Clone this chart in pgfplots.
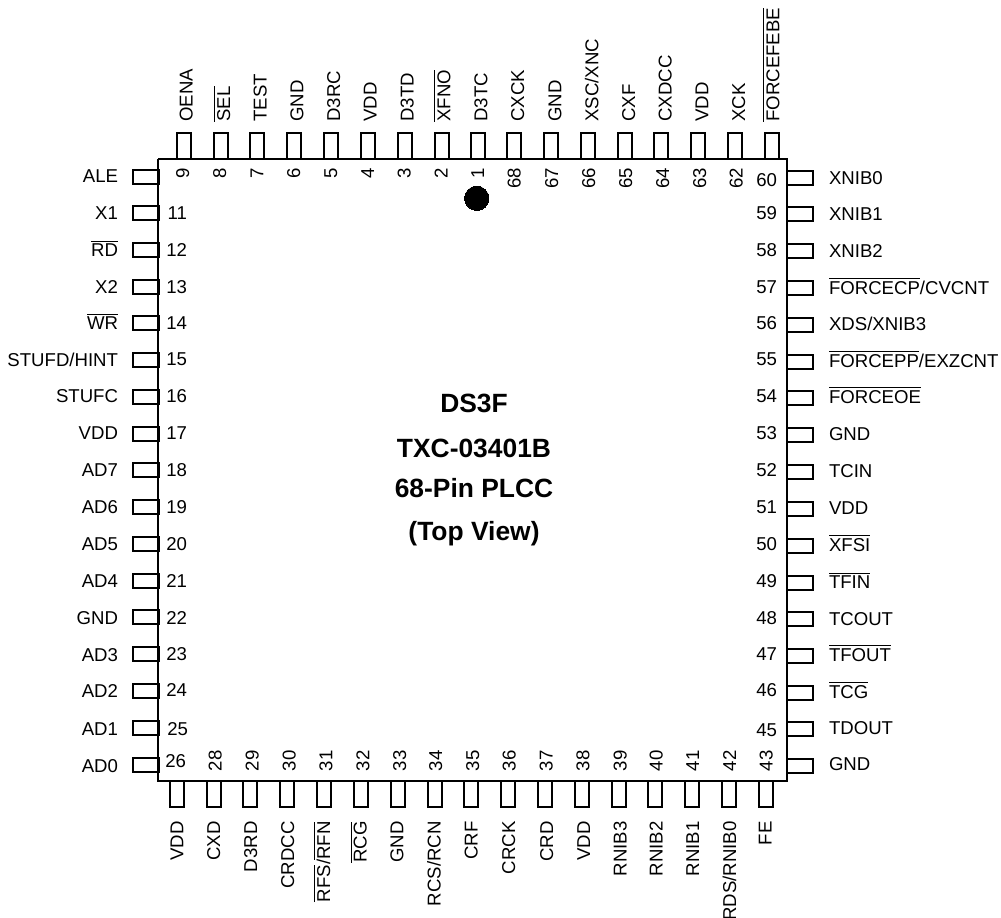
\documentclass[border=0pt]{standalone}
\usepackage{fontspec}
\setmainfont{Liberation Sans}
\usepackage{pgfplots}
\usepackage{pgfplotstable}
\pgfplotsset{compat=1.18}

% 1 pixel of the reference = 0.5pt, axis units are reference pixels (y downwards)
\protected\def\ol#1{$\overline{\mbox{#1}}$}
\pgfdeclareplotmark{pinv}{\pgfpathrectangle{\pgfpoint{-3.5pt}{-6.4pt}}{\pgfpoint{7pt}{12.8pt}}\pgfusepathqstroke}
\pgfdeclareplotmark{pinh}{\pgfpathrectangle{\pgfpoint{-6.4pt}{-3.5pt}}{\pgfpoint{12.8pt}{7pt}}\pgfusepathqstroke}

% pins
\pgfplotstableread{
x y
183.5 146
220.5 146
257 146
293.5 146
330.5 146
367.5 146
404.5 146
441.5 146
477.5 146
514 146
551 146
588 146
624.5 146
661 146
698 146
735 146
772 146
}\pinstop
\pgfplotstableread{
x y
176.5 794
213.5 794
250 794
287 794
324 794
361 794
398 794
434.5 794
471 794
507.5 794
544.5 794
581.5 794
618.5 794
655 794
692 794
729 794
765.5 794
}\pinsbottom
\pgfplotstableread{
x y
146 176.5
146 213
146 249.5
146 286.5
146 323
146 360
146 396.5
146 433.5
146 470
146 507
146 543.5
146 580.5
146 617
146 654
146 691
146 727.5
146 764.5
}\pinsleft
\pgfplotstableread{
x y
800 177.5
800 214
800 251
800 288
800 324.5
800 361.5
800 398
800 435
800 472
800 508.5
800 545.5
800 582.5
800 619
800 656
800 692.5
800 729
800 766
}\pinsright

% labels, top side: baseline x, foot of the text
\pgfplotstableread{
x y label
192.7 121.5 OENA
230 121.5 {\ol{SEL}}
266.7 121.5 TEST
303.3 121.5 GND
340 121.5 D3RC
376.7 121.5 VDD
413.7 121.5 D3TD
450.3 121.5 {\ol{XFNO}}
487.3 121.5 D3TC
524 121.5 CXCK
561.3 121.5 GND
598.3 121.5 XSC/XNC
635 121.5 CXF
671.7 121.5 CXDCC
708.3 121.5 VDD
745 121.5 XCK
779.3 121.5 {\ol{FORCEFEBE}}
}\labtop
\pgfplotstableread{
x y label
183.3 821.5 VDD
220 821.5 CXD
257 821.5 D3RD
294 821.5 CRDCC
330 821.5 {\ol{RFS}/\ol{RFN}}
366.7 821.5 {\ol{RCG}}
403.3 821.5 GND
440.7 821.5 RCS/RCN
477.7 821.5 CRF
515 821.5 CRCK
553 821.5 CRD
590 821.5 VDD
626.7 821.5 RNIB3
662.7 821.5 RNIB2
699 821.5 RNIB1
736 821.5 RDS/RNIB0
771.7 821.5 FE
}\labbottom
\pgfplotstableread{
x y label
118 182.5 ALE
118 219.5 X1
118 256.5 {\ol{RD}}
118 293 X2
118 329.5 {\ol{WR}}
118 366 STUFD/HINT
118 402.5 STUFC
118 439.5 VDD
118 476.5 AD7
118 513.5 AD6
118 550.5 AD5
118 587.5 AD4
118 624.5 GND
118 661.5 AD3
118 697 AD2
118 735 AD1
118 772 AD0
}\lableft
\pgfplotstableread{
x y label
829 184.7 XNIB0
829 220.7 XNIB1
829 257.3 XNIB2
829 294.3 {\ol{FORCECP}/CVCNT}
829 330.5 XDS/XNIB3
829 367.5 {\ol{FORCEPP}/EXZCNT}
829 403.5 {\ol{FORCEOE}}
829 440.5 GND
829 477.5 TCIN
829 514.5 VDD
829 551.5 {\ol{XFSI}}
829 588.5 {\ol{TFIN}}
829 625.5 TCOUT
829 661.5 {\ol{TFOUT}}
829 698.5 {\ol{TCG}}
829 734.3 TDOUT
829 770 GND
}\labright

% pin numbers
\pgfplotstableread{
x y label
189 168 9
226 168 8
263.3 168 7
300 168 6
337 168 5
374 168 4
410.7 168 3
447.7 168 2
484 168 1
520.7 168 68
558 168 67
595 168 66
632 168 65
669 168 64
706 168 63
742.7 168 62
}\numtop
\pgfplotstableread{
x y label
221.7 771 28
258.7 771 29
295.7 771 30
332.3 771 31
369.3 771 32
406 771 33
442 771 34
479 771 35
515.7 771 36
552.7 771 37
589.3 771 38
626.7 771 39
662.7 771 40
699 771 41
736 771 42
772.7 771 43
}\numbottom
\pgfplotstableread{
x y label
187 219 11
187 256 12
187 293 13
187 329.5 14
187 365.5 15
187 402.5 16
187 439.5 17
187 476.5 18
187 513.5 19
187 550.5 20
187 587.5 21
187 624.5 22
187 660.5 23
187 696.5 24
188 735.5 25
186 767.5 26
}\numleft
\pgfplotstableread{
x y label
777 186.5 60
777 219 59
777 256.5 58
777 293.5 57
777 329.5 56
777 365.5 55
777 402.5 54
777 439.5 53
777 476.5 52
777 513.5 51
777 550.5 50
777 587.5 49
777 624.5 48
777 660.5 47
777 696.5 46
777 736.5 45
}\numright

\pgfplotstableread{
x y label
474 412.5 DS3F
474 457 TXC-03401B
474 497 {68-Pin PLCC}
474 540 {(Top View)}
}\chiptitle

\pgfplotsset{
  pins/.style={only marks, mark=#1, mark options={draw=black, fill=none, line width=1pt, solid}},
  txt/.style 2 args={only marks, mark=none, point meta=explicit symbolic, nodes near coords,
    every node near coord/.append style={font=\fontsize{9.3}{11}\selectfont, text=black, inner sep=0pt, outer sep=0pt, anchor=#1, rotate=#2}},
}

\begin{document}
\begin{tikzpicture}
\useasboundingbox (0,0) rectangle (500.5pt,458.5pt);
\begin{axis}[
    scale only axis,
    width=500.5pt, height=458.5pt,
    xmin=0, xmax=1001,
    ymin=0, ymax=917,
    y dir=reverse,
    hide axis,
    clip=false,
]
    % package body
    \addplot[black, line width=1pt, line join=miter] coordinates {(158,159) (787,159) (787,781) (158,781) (158,159)};
    \addplot[only marks, mark=*, mark size=6.1pt, mark options={fill=black, draw=black, line width=0pt}] coordinates {(476.7,198.3)};

    \addplot[pins=pinv] table[x=x,y=y] {\pinstop};
    \addplot[pins=pinv] table[x=x,y=y] {\pinsbottom};
    \addplot[pins=pinh] table[x=x,y=y] {\pinsleft};
    \addplot[pins=pinh] table[x=x,y=y] {\pinsright};

    \addplot[txt={base west}{90}] table[x=x,y=y,meta=label] {\labtop};
    \addplot[txt={base east}{90}] table[x=x,y=y,meta=label] {\labbottom};
    \addplot[txt={base east}{0}] table[x=x,y=y,meta=label] {\lableft};
    \addplot[txt={base west}{0}] table[x=x,y=y,meta=label] {\labright};

    \addplot[txt={base east}{90}] table[x=x,y=y,meta=label] {\numtop};
    \addplot[txt={base west}{90}] table[x=x,y=y,meta=label] {\numbottom};
    \addplot[txt={base east}{0}] table[x=x,y=y,meta=label] {\numleft};
    \addplot[txt={base east}{0}] table[x=x,y=y,meta=label] {\numright};

    \addplot[only marks, mark=none, point meta=explicit symbolic, nodes near coords,
      every node near coord/.append style={font=\fontsize{13.2}{15}\selectfont\bfseries, text=black, inner sep=0pt, anchor=base}]
      table[x=x,y=y,meta=label] {\chiptitle};
\end{axis}
\end{tikzpicture}
\end{document}
